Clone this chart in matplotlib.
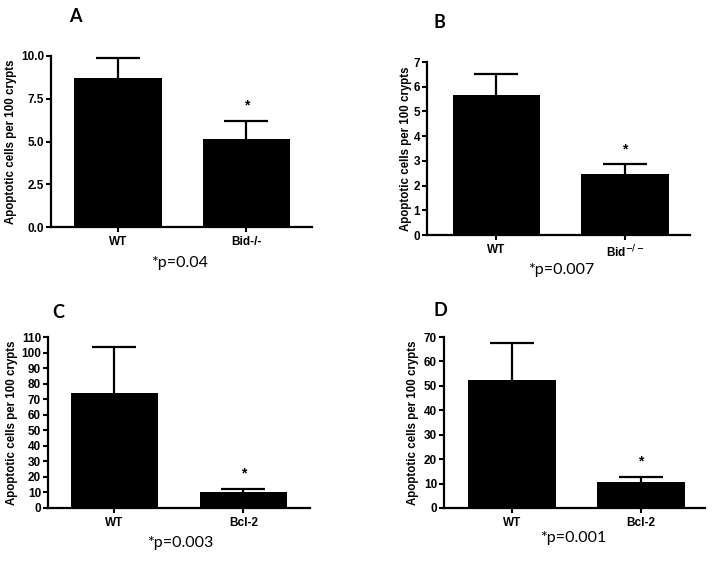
import matplotlib
matplotlib.use("Agg")
import matplotlib.pyplot as plt
import numpy as np

# ---- data ----
groups_A = ["WT", "Bid-/-"]
means_A = [8.7, 5.13]
errs_A = [1.2, 1.09]

groups_B = ["WT", r"Bid$^{\mathbf{-/-}}$"]
means_B = [5.66, 2.46]
errs_B = [0.84, 0.40]

groups_C = ["WT", "Bcl-2"]
means_C = [74.2, 10.5]
errs_C = [29.2, 1.7]

groups_D = ["WT", "Bcl-2"]
means_D = [52.4, 10.6]
errs_D = [15.3, 2.0]

yticks_A = [0, 2.5, 5.0, 7.5, 10.0]
yticks_B = [0, 1, 2, 3, 4, 5, 6, 7]
yticks_C = list(range(0, 111, 10))
yticks_D = list(range(0, 71, 10))

pvals = ["*p=0.04", "*p=0.007", "*p=0.003", "*p=0.001"]
letters = ["A", "B", "C", "D"]
ylabel = "Apoptotic cells per 100 crypts"

W, H = 714, 561
fig = plt.figure(figsize=(W / 100, H / 100), dpi=100)

panels = [
    dict(g=groups_A, m=means_A, e=errs_A, yt=yticks_A, fmt="{:.1f}",
         box=(51, 312, 56, 227), xl=(-0.52, 1.51), lab=11,
         let=(75, 16), p=(180, 263)),
    dict(g=groups_B, m=means_B, e=errs_B, yt=yticks_B, fmt="{:d}",
         box=(427, 690, 62, 235), xl=(-0.54, 1.506), lab=406,
         let=(439, 22), p=(561, 270)),
    dict(g=groups_C, m=means_C, e=errs_C, yt=yticks_C, fmt="{:d}",
         box=(48, 310, 337, 508), xl=(-0.515, 1.516), lab=12,
         let=(58, 312), p=(180, 543)),
    dict(g=groups_D, m=means_D, e=errs_D, yt=yticks_D, fmt="{:d}",
         box=(444, 705, 337, 508), xl=(-0.53, 1.496), lab=413,
         let=(440, 311), p=(573, 538)),
]

tickfont = dict(family="Liberation Sans", weight="bold", size=8.5)

for i, P in enumerate(panels):
    l, r, t, b = P["box"]
    ax = fig.add_axes([l / W, 1 - b / H, (r - l) / W, (b - t) / H])
    x = list(range(len(P["g"])))
    ax.bar(x, P["m"], width=0.68, color="black", linewidth=0, zorder=2)
    eb = ax.errorbar(x, P["m"], yerr=[[0] * len(x), P["e"]], fmt="none",
                     ecolor="black", elinewidth=1.6, capsize=15.5, capthick=1.6,
                     zorder=1)
    for cl in eb[1]:
        if np.allclose(cl.get_ydata(), P["m"]):
            cl.set_visible(False)
    ax.set_xlim(*P["xl"])
    ax.set_ylim(0, P["yt"][-1])
    ax.set_yticks(P["yt"])
    ax.set_yticklabels([P["fmt"].format(v) for v in P["yt"]], fontdict=tickfont)
    ax.set_xticks(x)
    ax.set_xticklabels(P["g"], fontdict=tickfont)
    for s in ["top", "right"]:
        ax.spines[s].set_visible(False)
    for s in ["left", "bottom"]:
        ax.spines[s].set_linewidth(1.6)
    ax.tick_params(axis="both", direction="out", width=1.5, length=3.5, pad=1.5)
    ax.tick_params(axis="x", pad=3)
    ax.set_ylabel(ylabel, fontdict=dict(family="Liberation Sans", weight="bold", size=8.3),
                  va="center")
    ax.yaxis.set_label_coords((P["lab"] - l) / (r - l), 0.5)
    ax.annotate("*", xy=(x[1], P["m"][1] + P["e"][1]), xytext=(0, 11),
                textcoords="offset points", ha="center", va="center",
                fontsize=10, fontweight="bold", family="Liberation Sans")
    fig.text(P["let"][0] / W, 1 - P["let"][1] / H, letters[i], ha="center", va="center",
             fontsize=13, fontweight="bold", family="Lato")
    fig.text(P["p"][0] / W, 1 - P["p"][1] / H, pvals[i], ha="center", va="center",
             fontsize=11.5, family="Lato")

fig.savefig("out.png", dpi=100, facecolor="white")
